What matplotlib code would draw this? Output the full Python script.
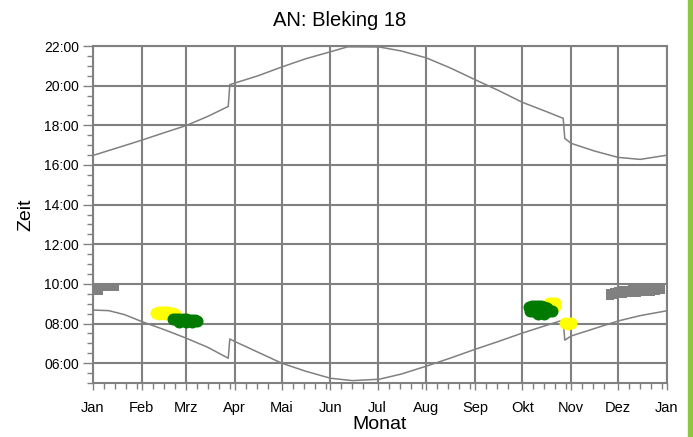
import matplotlib
matplotlib.use("Agg")
import matplotlib.pyplot as plt
from matplotlib.patches import Rectangle
from matplotlib.ticker import FixedLocator, FuncFormatter

plt.rcParams["font.family"] = ["Liberation Sans", "DejaVu Sans"]

# day of year (0 = 1 Jan) and clock time in hours
month_starts = [0, 31, 59, 90, 120, 151, 181, 212, 243, 273, 304, 334, 365]
month_labels = ["Jan", "Feb", "Mrz", "Apr", "Mai", "Jun", "Jul",
                "Aug", "Sep", "Okt", "Nov", "Dez", "Jan"]

sunset_days = [0, 15, 31, 45, 59, 73, 86, 87, 105, 120, 135, 151, 162, 182,
               196, 212, 227, 243, 258, 273, 288, 299, 300, 304, 319, 334, 348, 364]
sunset_times = [16.48, 16.85, 17.25, 17.62, 17.98, 18.45, 18.95, 20.05, 20.5, 20.94,
                21.35, 21.71, 21.96, 21.95, 21.75, 21.4, 20.9, 20.3, 19.75, 19.16,
                18.7, 18.35, 17.34, 17.09, 16.7, 16.38, 16.28, 16.48]

sunrise_days = [0, 10, 20, 31, 45, 59, 73, 86, 87, 90, 105, 120, 135, 151, 165,
                182, 196, 212, 227, 243, 258, 273, 288, 299, 300, 304, 319, 334, 348, 364]
sunrise_times = [8.68, 8.65, 8.45, 8.1, 7.7, 7.27, 6.8, 6.25, 7.22, 7.1, 6.55, 6.0,
                 5.6, 5.24, 5.12, 5.19, 5.45, 5.85, 6.25, 6.7, 7.1, 7.52, 7.9, 8.18,
                 7.16, 7.37, 7.75, 8.13, 8.4, 8.63]

# observations
gray_days = [2, 2, 4, 4, 6, 8, 10, 12, 14,
             329, 329, 331, 331, 334, 334, 337, 337, 340, 340, 343, 343, 346, 346,
             349, 349, 352, 352, 355, 355, 358, 358, 361, 361]
gray_times = [9.62, 9.82, 9.62, 9.82, 9.82, 9.82, 9.84, 9.84, 9.84,
              9.4, 9.55, 9.45, 9.6, 9.5, 9.65, 9.5, 9.68, 9.52, 9.7, 9.54, 9.72,
              9.55, 9.74, 9.57, 9.76, 9.58, 9.78, 9.6, 9.8, 9.62, 9.82, 9.68, 9.84]

yellow_days = [40, 42, 44, 46, 48, 50, 52, 42, 46, 50,
               290, 292, 294, 292, 294,
               300, 302, 304]
yellow_times = [8.55, 8.58, 8.6, 8.6, 8.58, 8.55, 8.5, 8.5, 8.5, 8.48,
                9.02, 9.05, 9.02, 8.92, 8.9,
                8.02, 8.0, 8.02]

green_days = [51, 53, 55, 57, 59, 61, 63, 65, 66, 55, 59, 63,
              277, 279, 281, 283, 285, 287, 289, 278, 280, 282, 284, 286, 288, 290, 292,
              283, 287]
green_times = [8.22, 8.25, 8.25, 8.25, 8.22, 8.2, 8.2, 8.18, 8.15, 8.1, 8.1, 8.08,
               8.85, 8.88, 8.9, 8.9, 8.88, 8.85, 8.8, 8.65, 8.62, 8.6, 8.58, 8.58,
               8.6, 8.62, 8.65, 8.5, 8.5]

grid_gray = "#808080"

fig = plt.figure(figsize=(6.93, 4.37), dpi=100)
ax = fig.add_axes([93 / 693, 1 - 383 / 437, 574 / 693, 337 / 437])

ax.plot(sunset_days, sunset_times, color=grid_gray, lw=1.1, zorder=3)
ax.plot(sunrise_days, sunrise_times, color=grid_gray, lw=1.1, zorder=3)

ax.scatter(gray_days, gray_times, marker="s", s=(7 * 0.72) ** 2 * 1.2,
           color=grid_gray, linewidths=0, zorder=4)
ax.scatter(yellow_days, yellow_times, marker="o", s=(12 * 0.72) ** 2,
           color="#ffff00", linewidths=0, zorder=4)
ax.scatter(green_days, green_times, marker="o", s=(12 * 0.72) ** 2,
           color="#007a00", linewidths=0, zorder=5)

ax.set_xlim(0, 365)
ax.set_ylim(5, 22)

ax.xaxis.set_major_locator(FixedLocator(month_starts))
ax.set_xticklabels(month_labels, fontsize=10.5)
minor_x = []
for a, b in zip(month_starts[:-1], month_starts[1:]):
    d = a + 7
    while d < b - 2:
        minor_x.append(d)
        d += 7
ax.xaxis.set_minor_locator(FixedLocator(minor_x))

ax.yaxis.set_major_locator(FixedLocator(range(6, 23, 2)))
ax.yaxis.set_minor_locator(FixedLocator([h / 2 for h in range(10, 45)]))
ax.yaxis.set_major_formatter(FuncFormatter(lambda v, p: f"{int(v):02d}:00"))
for lab in ax.get_yticklabels():
    lab.set_fontsize(10)

ax.grid(which="major", color=grid_gray, lw=1.5)
ax.set_axisbelow(True)
for sp in ax.spines.values():
    sp.set_color(grid_gray)
    sp.set_linewidth(1.5)

ax.tick_params(axis="x", which="major", length=5, width=1, color=grid_gray, pad=8)
ax.tick_params(axis="x", which="minor", length=4, width=1, color=grid_gray)
ax.tick_params(axis="y", which="major", length=7, width=1, color=grid_gray, pad=3,
               labelsize=10)
ax.tick_params(axis="y", which="minor", length=4, width=1, color=grid_gray)

ax.set_xlabel("Monat", fontsize=14, labelpad=1)
ax.set_ylabel("Zeit", fontsize=14, labelpad=7)
fig.suptitle("AN: Bleking 18", x=0.49, y=0.975, fontsize=14.5)

fig.patches.append(Rectangle((688 / 693, 0), 5 / 693, 1, transform=fig.transFigure,
                             color="#8dc63f", zorder=0))

fig.savefig("out.png", dpi=100)
